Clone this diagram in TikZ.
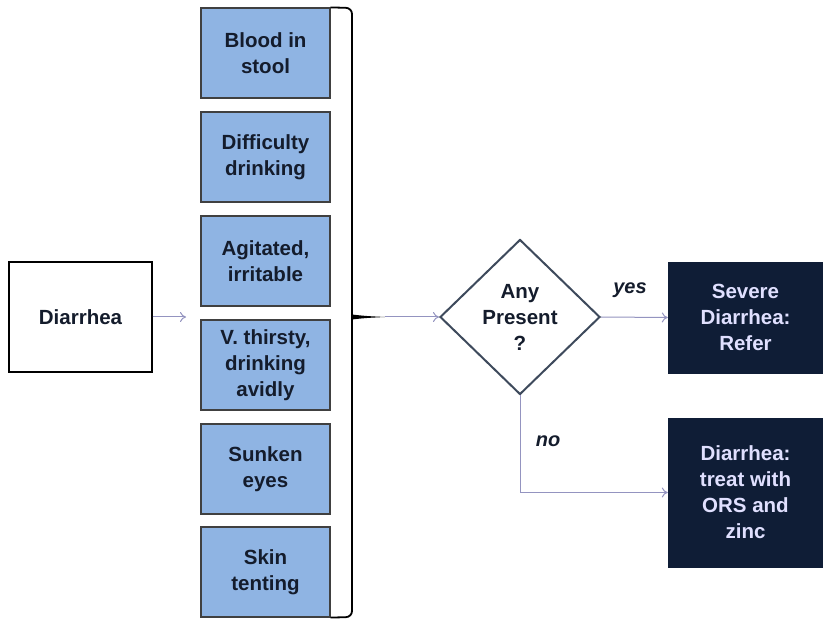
\documentclass[tikz,border=0pt]{standalone}
\usepackage{fontspec}
\setmainfont{Liberation Sans}
\usetikzlibrary{shapes.geometric,arrows.meta}
\definecolor{boxblue}{HTML}{8FB4E3}
\definecolor{navy}{HTML}{0F1D36}
\definecolor{arr}{HTML}{9494C0}
\definecolor{dgray}{HTML}{3E4A5C}
\definecolor{txtdark}{HTML}{141C2C}
\begin{document}
\begin{tikzpicture}[x=1pt,y=-1pt,
  every node/.style={font=\fontsize{20.5}{26}\selectfont\bfseries, align=center},
  sym/.style={draw=black!75, line width=1.2pt, fill=boxblue, minimum width=129pt, minimum height=90pt, inner sep=0pt, text=txtdark},
  dark/.style={fill=navy, draw=navy, minimum width=155pt, inner sep=0pt, text=white!88!blue},
  conn/.style={draw=arr, line width=1pt, -{To[length=6pt,width=10pt]}},
  lbl/.style={font=\fontsize{20}{22}\selectfont\bfseries\itshape, text=txtdark}]
\useasboundingbox (0,0) rectangle (823,620);
\fill[white] (0,0) rectangle (823,620);
\node[draw=black, line width=1.4pt, minimum width=143pt, minimum height=110pt, text=txtdark] (d) at (80.5,317) {Diarrhea};
\node[sym] (s1) at (265.5,53) {Blood in\\stool};
\node[sym] (s2) at (265.5,157) {Difficulty\\drinking};
\node[sym] (s3) at (265.5,261) {Agitated,\\irritable};
\node[sym] (s4) at (265.5,365) {V. thirsty,\\drinking\\avidly};
\node[sym] (s5) at (265.5,469) {Sunken\\eyes};
\node[sym] (s6) at (265.5,572) {Skin\\tenting};
\coordinate (din) at (186,317);
\draw[conn] (d.east) -- (din);
% brace
\draw[line width=1.8pt, rounded corners=6pt] (s1.north east) -- (352,8) -- (352,617) -- (s6.south east);
\fill[black] (352,314.5) .. controls (365,316) .. (385,317) .. controls (365,318) .. (352,319.5) -- cycle;
\coordinate (tip) at (385,317);
\node[diamond, draw=dgray, line width=2pt, minimum width=160pt, minimum height=155pt, inner sep=0pt, text=txtdark] (q) at (520,317) {Any\\Present\\?};
\draw[conn] (tip) -- (q.west);
\node[dark, minimum height=111pt] (sev) at (745.5,317.5) {Severe\\Diarrhea:\\Refer};
\node[dark, minimum height=149pt] (trt) at (745.5,492.5) {Diarrhea:\\treat with\\ORS and\\zinc};
\draw[conn] (q.east) -- (sev.west);
\draw[conn] (q.south) |- (trt.west);
\node[lbl] at (630,290) {yes};
\node[lbl] at (548,441) {no};
\end{tikzpicture}
\end{document}
